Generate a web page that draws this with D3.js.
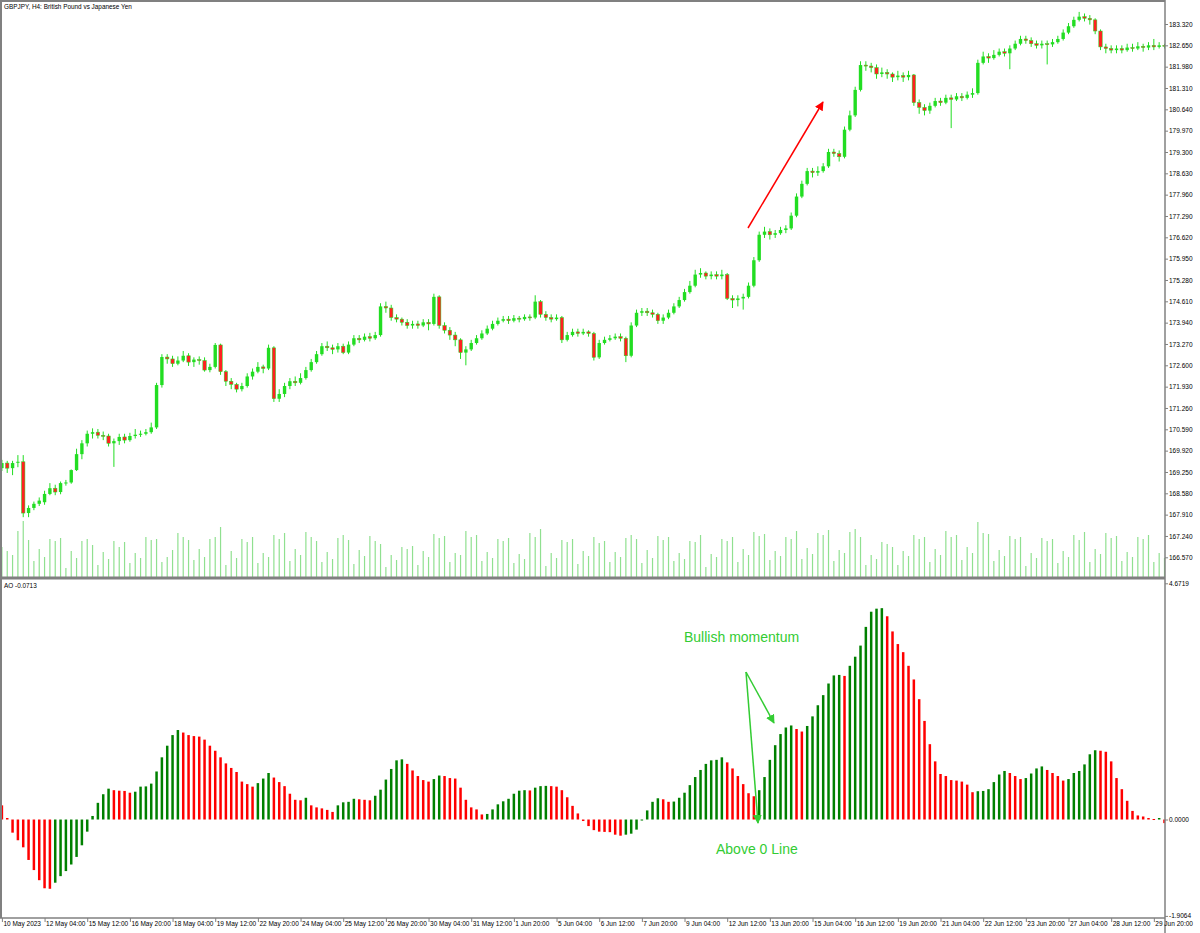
<!DOCTYPE html>
<html><head><meta charset="utf-8">
<script src="https://cdn.jsdelivr.net/npm/d3@7"></script>
<style>body{margin:0;background:#fff;overflow:hidden}svg{display:block}</style>
</head><body>
<script>
// ---------- DATA ----------
const timeLabels = ["10 May 2023","12 May 04:00","15 May 12:00","16 May 20:00","18 May 04:00","19 May 12:00","22 May 20:00","24 May 04:00","25 May 12:00","26 May 20:00","30 May 04:00","31 May 12:00","1 Jun 20:00","5 Jun 04:00","6 Jun 12:00","7 Jun 20:00","9 Jun 04:00","12 Jun 12:00","13 Jun 20:00","15 Jun 04:00","16 Jun 12:00","19 Jun 20:00","21 Jun 04:00","22 Jun 12:00","23 Jun 20:00","27 Jun 04:00","28 Jun 12:00","29 Jun 20:00"];
const priceTicks = ["183.320","182.650","181.980","181.310","180.640","179.970","179.300","178.630","177.960","177.290","176.620","175.950","175.280","174.610","173.940","173.270","172.600","171.930","171.260","170.590","169.920","169.250","168.580","167.910","167.240","166.570"];
const aoTicks = ["4.6719","0.0000","-1.9064"];

const opens = [169.37,169.53,169.37,169.55,169.57,167.96,168.12,168.25,168.30,168.56,
168.74,168.62,168.90,168.92,169.31,169.81,170.15,170.45,170.50,170.40,
170.38,170.15,170.22,170.35,170.25,170.38,170.42,170.45,170.50,170.65,
171.98,172.86,172.80,172.65,172.75,172.90,172.70,172.78,172.75,172.45,
172.55,173.24,172.40,172.10,172.00,171.85,171.95,172.25,172.40,172.55,
172.50,173.15,171.55,171.70,171.95,172.10,172.05,172.20,172.45,172.70,
172.95,173.20,173.15,173.10,173.20,173.00,173.25,173.45,173.40,173.50,
173.45,173.55,174.45,174.40,174.10,174.05,173.95,173.85,173.90,173.85,
173.95,173.90,174.75,173.85,173.70,173.55,173.40,173.00,173.10,173.30,
173.45,173.60,173.75,173.90,174.00,174.05,174.00,174.08,174.05,174.12,
174.10,174.60,174.20,174.10,174.05,174.10,173.40,173.55,173.65,173.60,
173.65,173.60,172.85,173.30,173.40,173.45,173.50,173.45,172.90,173.85,
174.25,174.30,174.25,174.20,174.00,174.10,174.25,174.45,174.65,174.90,
175.10,175.45,175.50,175.40,175.45,175.40,175.45,174.70,174.65,174.70,
174.75,175.10,175.90,176.70,176.80,176.70,176.75,176.85,176.90,177.30,
177.90,178.30,178.70,178.65,178.70,178.85,179.30,179.25,179.15,180.00,
180.45,181.25,182.03,182.00,181.95,181.75,181.80,181.75,181.65,181.70,
181.65,181.72,180.85,180.70,180.60,180.75,180.90,180.85,181.00,180.95,
181.05,181.00,181.10,181.15,182.10,182.30,182.25,182.35,182.45,182.40,
182.55,182.70,182.85,182.80,182.70,182.65,182.70,182.68,182.75,182.85,
183.05,183.25,183.45,183.55,183.50,183.45,183.10,182.60,182.55,182.50,
182.55,182.50,182.58,182.55,182.62,182.58,182.65,182.60,182.65];
const highs = [169.63,169.60,169.60,169.78,169.78,168.20,168.32,168.45,168.66,168.90,
168.85,168.95,169.00,169.33,169.98,170.25,170.55,170.62,170.60,170.52,
170.45,170.30,170.45,170.45,170.48,170.60,170.55,170.60,170.80,172.05,
172.95,172.95,172.90,172.88,173.05,172.98,172.85,172.88,172.85,172.65,
173.30,173.28,172.45,172.20,172.05,172.05,172.35,172.50,172.70,172.62,
173.25,173.20,171.85,172.05,172.20,172.25,172.35,172.55,172.80,173.05,
173.30,173.35,173.25,173.30,173.28,173.35,173.55,173.55,173.60,173.62,
173.65,174.55,174.60,174.50,174.20,174.10,174.05,174.00,174.00,174.05,
174.05,174.85,174.80,173.95,173.80,173.65,173.45,173.20,173.40,173.55,
173.70,173.85,174.00,174.10,174.15,174.15,174.18,174.15,174.20,174.20,
174.80,174.65,174.30,174.20,174.20,174.15,173.65,173.75,173.75,173.75,
173.70,173.65,173.40,173.50,173.55,173.60,173.60,173.50,173.95,174.35,
174.40,174.40,174.35,174.25,174.20,174.35,174.55,174.75,175.00,175.25,
175.60,175.65,175.55,175.55,175.55,175.60,175.50,174.80,174.80,174.85,
175.20,176.00,176.80,176.95,176.90,176.85,176.95,177.00,177.40,178.00,
178.40,178.80,178.80,178.85,178.95,179.40,179.40,179.35,180.10,180.60,
181.35,182.15,182.15,182.10,182.05,181.95,181.90,181.80,181.85,181.80,
181.85,181.75,180.95,180.80,180.85,181.00,181.00,181.10,181.10,181.15,
181.15,181.20,181.30,182.20,182.45,182.40,182.50,182.55,182.55,182.65,
182.80,182.95,182.95,182.90,182.80,182.80,182.80,182.85,182.95,183.15,
183.35,183.55,183.70,183.65,183.60,183.50,183.15,182.70,182.65,182.65,
182.65,182.70,182.70,182.75,182.70,182.75,182.85,182.75,182.70];
const lows = [169.28,169.22,169.15,169.40,167.83,167.83,168.05,168.18,168.22,168.52,
168.52,168.55,168.82,168.88,169.28,169.65,170.05,170.30,170.30,170.25,
170.05,169.41,170.10,170.15,170.20,170.30,170.35,170.40,170.45,170.60,
171.90,172.65,172.55,172.60,172.70,172.58,172.55,172.62,172.40,172.38,
172.50,172.30,171.95,171.85,171.75,171.78,171.90,172.15,172.35,172.35,
172.45,171.45,171.45,171.60,171.85,171.95,172.00,172.15,172.40,172.65,
172.90,173.05,172.95,173.00,172.95,172.95,173.20,173.30,173.35,173.35,
173.40,173.50,174.25,174.00,173.95,173.85,173.75,173.75,173.75,173.80,
173.70,173.85,173.75,173.60,173.40,173.20,172.80,172.60,173.05,173.25,
173.40,173.55,173.70,173.85,173.95,173.90,173.95,173.95,174.00,174.00,
174.05,174.10,174.00,173.95,174.00,173.30,173.35,173.50,173.50,173.55,
173.50,172.75,172.80,173.25,173.35,173.40,173.35,172.70,172.85,173.80,
174.15,174.15,174.10,173.90,173.90,174.05,174.20,174.40,174.60,174.85,
175.05,175.35,175.30,175.30,175.30,175.30,174.65,174.40,174.45,174.35,
174.70,175.05,175.85,176.60,176.55,176.60,176.70,176.75,176.85,177.25,
177.85,178.25,178.50,178.55,178.65,178.80,179.15,179.00,179.10,179.95,
180.40,181.20,181.85,181.80,181.60,181.65,181.60,181.50,181.55,181.50,
181.55,180.75,180.50,180.45,180.50,180.70,180.75,180.80,180.05,180.90,
180.90,180.95,181.00,181.10,182.05,182.10,182.20,182.30,182.30,181.90,
182.50,182.65,182.70,182.60,182.55,182.55,182.05,182.60,182.70,182.80,
183.00,183.20,183.40,183.40,183.30,183.00,182.50,182.40,182.40,182.40,
182.40,182.45,182.45,182.50,182.45,182.50,182.50,182.55,182.55];
const closes = [169.53,169.37,169.53,169.57,167.96,168.12,168.25,168.35,168.56,168.74,
168.62,168.90,168.92,169.31,169.81,170.15,170.45,170.50,170.40,170.38,
170.15,170.22,170.35,170.25,170.38,170.42,170.45,170.50,170.65,171.98,
172.86,172.80,172.65,172.75,172.90,172.70,172.78,172.75,172.45,172.55,
173.24,172.40,172.10,172.00,171.85,171.95,172.25,172.40,172.55,172.50,
173.15,171.55,171.70,171.95,172.10,172.05,172.20,172.45,172.70,172.95,
173.20,173.15,173.10,173.20,173.00,173.25,173.45,173.40,173.50,173.45,
173.55,174.45,174.40,174.10,174.05,173.95,173.85,173.90,173.85,173.95,
173.90,174.75,173.85,173.70,173.55,173.40,173.00,173.10,173.30,173.45,
173.60,173.75,173.90,174.00,174.05,174.00,174.08,174.05,174.12,174.10,
174.60,174.20,174.10,174.05,174.10,173.40,173.55,173.65,173.60,173.65,
173.60,172.85,173.30,173.40,173.45,173.50,173.45,172.90,173.85,174.25,
174.30,174.25,174.20,174.00,174.10,174.25,174.45,174.65,174.90,175.10,
175.45,175.50,175.40,175.45,175.40,175.45,174.70,174.65,174.70,174.75,
175.10,175.90,176.70,176.80,176.70,176.75,176.85,176.90,177.30,177.90,
178.30,178.70,178.65,178.70,178.85,179.30,179.25,179.15,180.00,180.45,
181.25,182.03,182.00,181.95,181.75,181.80,181.75,181.65,181.70,181.65,
181.72,180.85,180.70,180.60,180.75,180.90,180.85,181.00,180.95,181.05,
181.00,181.10,181.15,182.10,182.30,182.25,182.35,182.45,182.40,182.55,
182.70,182.85,182.80,182.70,182.65,182.70,182.68,182.75,182.85,183.05,
183.25,183.45,183.55,183.50,183.45,183.10,182.60,182.55,182.50,182.55,
182.50,182.58,182.55,182.62,182.58,182.65,182.60,182.65,182.62];
const volumes = [30,26,22,46,56,37,16,28,20,38,36,39,9,26,19,36,38,32,12,25,18,36,30,35,14,24,19,40,37,38,15,20,27,44,40,37,17,28,20,38,40,50,12,
26,19,38,35,40,14, 24,20,42,38,44,16, 28,22,45,40,36,15, 25,18,39,42,37,13, 27,21,41,36,33,10,
22,17,30,28,31,12, 26,20,43,39,41,15, 24,22,46,40,42,16, 25,19,38,36,39,14, 23,18,44,40,48,11,
24,19,37,35,38,13, 26,21,40,34,36,15, 25,20,39,42,38,14, 27,19,41,37,40,16, 24,18,36,35,42,10,
23,20,38,36,40,15, 28,22,45,41,43,17, 26,21,40,38,46,18, 29,23,44,42,47,16, 27,24,45,48,40,12,
22,18,35,33,30,12, 26,21,42,38,40,15, 28,22,46,40,42,17, 30,24,55,44,43,16, 27,21,41,38,40,11,
24,19,39,36,38,14, 26,20,42,37,45,15, 28,23,44,39,41,16, 25,20,40,38,42,15, 24,19];
const aoValues = [0.28,0.03,-0.26,-0.41,-0.55,-0.80,-1.00,-1.20,-1.36,-1.37,-1.25,-1.12,-1.02,-0.89,-0.74,-0.51,-0.24,0.07,0.33,0.50,0.61,0.58,0.57,0.565,0.53,0.55,0.65,0.655,0.71,0.95,1.23,1.46,1.67,1.77,1.72,1.67,1.65,1.64,1.58,1.46,1.36,1.23,1.11,1.02,0.94,0.75,0.70,0.65,0.72,0.81,0.92,0.83,0.74,0.66,0.51,0.39,0.38,0.43,0.28,0.24,0.22,0.19,0.15,0.28,0.34,0.35,0.41,0.40,0.39,0.38,0.47,0.59,0.79,1.00,1.17,1.19,1.10,0.97,0.86,0.78,0.75,0.80,0.87,0.86,0.82,0.81,0.63,0.39,0.24,0.20,0.10,0.11,0.20,0.30,0.36,0.41,0.51,0.57,0.58,0.575,0.63,0.66,0.665,0.66,0.65,0.58,0.44,0.27,0.12,-0.03,-0.13,-0.21,-0.24,-0.245,-0.25,-0.30,-0.32,-0.30,-0.28,-0.20,-0.02,0.18,0.35,0.42,0.40,0.35,0.355,0.43,0.53,0.68,0.84,0.98,1.10,1.17,1.18,1.23,1.13,1.01,0.86,0.70,0.52,0.46,0.58,0.84,1.18,1.47,1.69,1.82,1.86,1.79,1.74,1.85,2.04,2.26,2.46,2.69,2.85,2.86,2.84,3.04,3.22,3.44,3.81,4.11,4.17,4.18,4.02,3.72,3.47,3.31,3.04,2.77,2.38,1.95,1.49,1.15,0.90,0.86,0.78,0.77,0.75,0.69,0.54,0.56,0.565,0.60,0.74,0.89,0.96,0.92,0.86,0.80,0.82,0.91,1.01,1.05,0.98,0.92,0.86,0.77,0.80,0.92,0.96,1.09,1.29,1.37,1.36,1.34,1.15,0.82,0.60,0.37,0.17,0.08,0.06,0.03,0.01,0.03,-0.0713];
// 1 = rising bar (green), 0 = falling bar (red), as coloured in the picture
const aoRising = [0,0,0,0,0,0,0,0,0,0,1,1,1,1,1,1,1,1,1,1,1,0,0,0,0,1,1,1,1,1,1,1,1,1,0,0,0,0,0,0,0,0,0,0,0,0,0,0,1,1,1,0,0,0,0,0,0,1,0,0,0,0,0,1,1,1,1,0,0,0,1,1,1,1,1,1,0,0,0,0,0,1,1,0,0,0,0,0,0,0,0,1,1,1,1,1,1,1,1,0,1,1,1,0,0,0,0,0,0,0,0,0,0,0,0,0,0,1,1,1,1,1,1,1,0,0,1,1,1,1,1,1,1,1,1,1,0,0,0,0,0,0,1,1,1,1,1,1,1,0,0,1,1,1,1,1,1,1,0,1,1,1,1,1,1,1,0,0,0,0,0,0,0,0,0,0,0,0,0,0,0,0,0,1,1,1,1,1,1,0,0,0,1,1,1,1,0,0,0,0,1,1,1,1,1,1,0,0,0,0,0,0,0,0,0,0,0,1,0];

// ---------- DRAW ----------
const W = 1200, H = 933;
const FONT = "'Liberation Sans', Arial, sans-serif";
const LIME = "#22dd22";
const svg = d3.select("body").append("svg").attr("width", W).attr("height", H).style("font-family", FONT);

const chartR = 1165, priceTop = 2, priceBot = 578, aoTop = 580, aoBot = 918;
const x = d3.scaleLinear().domain([0, 218]).range([1.9, 1164.5]);
const yP = d3.scaleLinear().domain([166.57, 183.32]).range([557.3, 24]);
const yV = d3.scaleLinear().domain([0, 100]).range([577, 477]);
const yA = d3.scaleLinear().domain([-1.9064, 4.6719]).range([915.9, 583.3]);

const defs = svg.append("defs");
defs.append("clipPath").attr("id", "cp").append("rect").attr("x", 2).attr("y", priceTop).attr("width", chartR - 2).attr("height", priceBot - priceTop - 1);
defs.append("clipPath").attr("id", "ca").append("rect").attr("x", 2).attr("y", aoTop).attr("width", chartR - 2).attr("height", aoBot - aoTop);
const mk = (id, col) => defs.append("marker").attr("id", id).attr("viewBox", "0 0 10 10").attr("refX", 9).attr("refY", 5)
  .attr("markerWidth", 9).attr("markerHeight", 9).attr("markerUnits", "userSpaceOnUse").attr("orient", "auto")
  .append("path").attr("d", "M0,0L10,5L0,10z").attr("fill", col);
mk("arR", "#ff0000"); mk("arG", "#33cc33");

const candles = closes.map((c, i) => ({i, o: opens[i], h: highs[i], l: lows[i], c}));
const gP = svg.append("g").attr("clip-path", "url(#cp)");
gP.selectAll("line.v").data(volumes).join("line").attr("class", "v")
  .attr("x1", (d, i) => x(i)).attr("x2", (d, i) => x(i)).attr("y1", yV(0)).attr("y2", d => yV(d))
  .attr("stroke", "#90e090").attr("stroke-width", 1.2);
gP.selectAll("line.w").data(candles).join("line").attr("class", "w")
  .attr("x1", d => x(d.i)).attr("x2", d => x(d.i)).attr("y1", d => yP(d.h)).attr("y2", d => yP(d.l))
  .attr("stroke", LIME).attr("stroke-width", 1);
gP.selectAll("rect.b").data(candles).join("rect").attr("class", "b")
  .attr("x", d => x(d.i) - 1.7).attr("width", 3.4)
  .attr("y", d => yP(Math.max(d.o, d.c)))
  .attr("height", d => Math.max(1, Math.abs(yP(d.o) - yP(d.c))))
  .attr("fill", d => d.c >= d.o ? LIME : "#ff2020")
  .attr("stroke", d => d.c >= d.o ? "none" : LIME).attr("stroke-width", 0.5);

const gA = svg.append("g").attr("clip-path", "url(#ca)");
gA.selectAll("rect").data(aoValues).join("rect")
  .attr("x", (d, i) => x(i) - 1.25).attr("width", 2.5)
  .attr("y", d => yA(Math.max(0, d))).attr("height", d => Math.max(1, Math.abs(yA(d) - yA(0))))
  .attr("fill", (d, i) => aoRising[i] ? "#008000" : "#ff0000");

const frame = svg.append("g").attr("stroke", "#808080").attr("fill", "none");
frame.append("line").attr("x1", 0).attr("x2", chartR).attr("y1", 1).attr("y2", 1).attr("stroke-width", 2);
frame.append("line").attr("x1", 1).attr("x2", 1).attr("y1", 0).attr("y2", aoBot).attr("stroke-width", 2);
frame.append("line").attr("x1", 0).attr("x2", chartR).attr("y1", priceBot).attr("y2", priceBot).attr("stroke-width", 3);
frame.append("line").attr("x1", 0).attr("x2", chartR).attr("y1", aoBot).attr("y2", aoBot).attr("stroke-width", 1.5);
frame.append("line").attr("x1", chartR).attr("x2", chartR).attr("y1", 0).attr("y2", H).attr("stroke-width", 1.5);

const FS = 6.5;
const pAxis = d3.axisRight(yP).tickValues(priceTicks.map(Number)).tickFormat((d, i) => priceTicks[i]).tickSize(3).tickPadding(1);
const gPA = svg.append("g").attr("transform", `translate(${chartR},0)`).call(pAxis);
const aAxis = d3.axisRight(yA).tickValues(aoTicks.map(Number)).tickFormat((d, i) => aoTicks[i]).tickSize(3).tickPadding(1);
const gAA = svg.append("g").attr("transform", `translate(${chartR},0)`).call(aAxis);
[gPA, gAA].forEach(g => {
  g.select(".domain").remove();
  g.selectAll("line").attr("stroke", "#808080");
  g.selectAll("text").attr("font-size", FS).attr("fill", "#000").attr("font-family", FONT);
});

const tIdx = timeLabels.map((t, k) => k * 8);
const tAxis = d3.axisBottom(x).tickValues(tIdx).tickFormat((d, k) => timeLabels[k]).tickSize(4);
const gTA = svg.append("g").attr("transform", `translate(0,${aoBot})`).call(tAxis);
gTA.select(".domain").remove();
gTA.selectAll("line").attr("stroke", "#808080");
gTA.selectAll("text").attr("text-anchor", "start").attr("dx", 1).attr("dy", "0.2em")
  .attr("font-size", FS).attr("fill", "#000").attr("font-family", FONT);

svg.append("text").attr("x", 4).attr("y", 9).attr("font-size", 6.4).attr("fill", "#000").text("GBPJPY, H4:  British Pound vs Japanese Yen");
svg.append("text").attr("x", 4).attr("y", 588).attr("font-size", 6.4).attr("fill", "#000").text("AO -0.0713");

svg.append("line").attr("x1", 748).attr("y1", 228).attr("x2", 823).attr("y2", 102)
  .attr("stroke", "#ff0000").attr("stroke-width", 1.5).attr("marker-end", "url(#arR)");
svg.append("line").attr("x1", 746).attr("y1", 672).attr("x2", 774).attr("y2", 723)
  .attr("stroke", "#33cc33").attr("stroke-width", 1.5).attr("marker-end", "url(#arG)");
svg.append("line").attr("x1", 746).attr("y1", 672).attr("x2", 758).attr("y2", 823)
  .attr("stroke", "#33cc33").attr("stroke-width", 1.5).attr("marker-end", "url(#arG)");
svg.append("text").attr("x", 684).attr("y", 642).attr("font-size", 14).attr("fill", "#33cc33").text("Bullish momentum");
svg.append("text").attr("x", 716).attr("y", 854).attr("font-size", 14).attr("fill", "#33cc33").text("Above 0 Line");
</script>
</body></html>
